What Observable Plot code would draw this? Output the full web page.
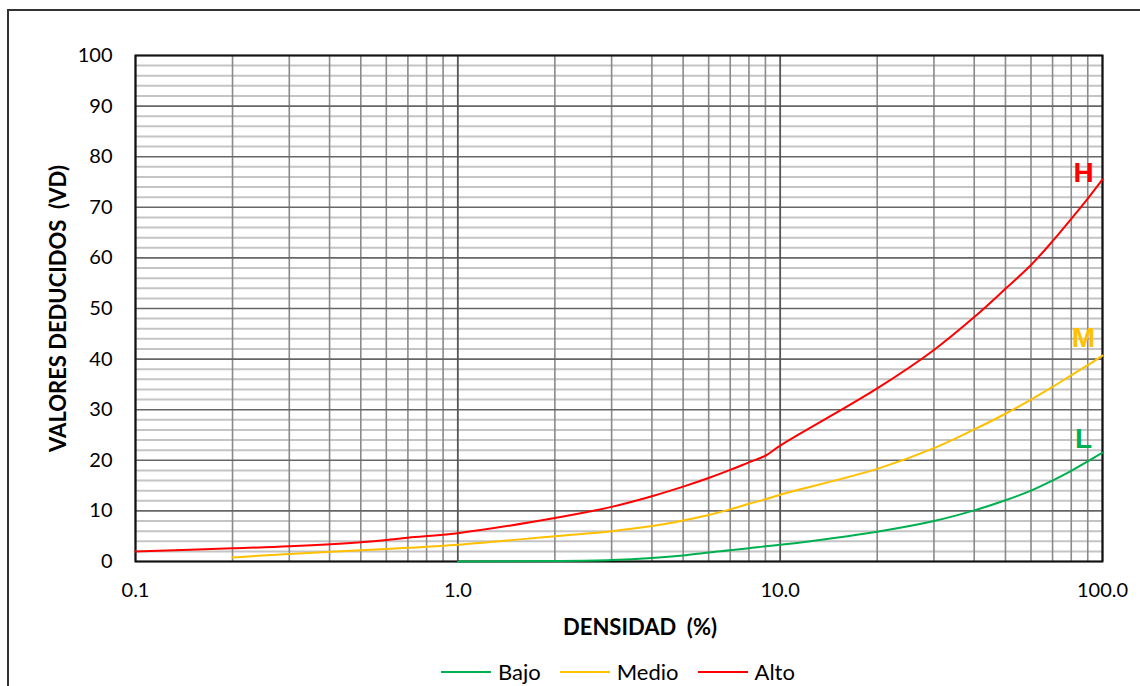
<!DOCTYPE html>
<html>
<head>
<meta charset="utf-8">
<script src="https://cdn.jsdelivr.net/npm/d3@7"></script>
<script src="https://cdn.jsdelivr.net/npm/@observablehq/plot@0.6"></script>
<style>
  html, body { margin: 0; padding: 0; background: #fff; overflow: hidden; width: 1140px; height: 686px; }
  #frame { position: absolute; left: 7px; top: 9px; width: 1300px; height: 900px; border-top: 2px solid #333; border-left: 2px solid #333; }
  #chart { position: absolute; left: 0; top: 0; }
  #legend { position: absolute; left: 0; top: 658px; width: 1140px; display: flex; justify-content: flex-start; padding-left: 441px; box-sizing: border-box;
            font-family: Lato, "Open Sans", sans-serif; font-size: 22px; color: #000; align-items: center; }
  .item { display: flex; align-items: center; margin-right: 19px; }
  .sw { width: 50px; height: 2px; margin-right: 7px; }
</style>
</head>
<body>
<div id="frame"></div>
<div id="chart"></div>
<div id="legend"></div>
<script>
// ---- data ----
const seriesNames = ["Bajo", "Medio", "Alto"];
const seriesLetters = ["L", "M", "H"];
const seriesColors = ["#00B050", "#FFC000", "#FF0000"];

const bajoX = [1, 2, 3, 4, 5, 6, 7, 8, 9, 10, 20, 30, 40, 50, 60, 70, 80, 90, 100];
const bajoY = [0, 0.1, 0.3, 0.7, 1.2, 1.8, 2.2, 2.6, 3.0, 3.3, 5.9, 8.0, 10.1, 12.1, 14.0, 16.0, 17.9, 19.8, 21.5];

const medioX = [0.2, 0.3, 0.5, 0.7, 1, 2, 3, 4, 5, 6, 7, 8, 9, 10, 20, 30, 40, 50, 60, 70, 80, 90, 100];
const medioY = [0.8, 1.5, 2.2, 2.7, 3.3, 5.0, 6.0, 7.0, 8.1, 9.2, 10.3, 11.4, 12.3, 13.2, 18.3, 22.4, 26.1, 29.2, 32.0, 34.5, 36.8, 38.8, 40.7];

const altoX = [0.1, 0.2, 0.3, 0.5, 0.7, 1, 2, 3, 4, 5, 6, 7, 8, 9, 10, 20, 30, 40, 50, 60, 70, 80, 90, 100];
const altoY = [2.0, 2.6, 3.0, 3.8, 4.7, 5.6, 8.6, 10.8, 12.9, 14.8, 16.5, 18.1, 19.6, 20.9, 22.9, 34.2, 41.8, 48.3, 53.9, 58.6, 63.3, 67.7, 71.7, 75.5];

const xTicks = [0.1, 1, 10, 100];
const xMinorGrid = [0.2,0.3,0.4,0.5,0.6,0.7,0.8,0.9,2,3,4,5,6,7,8,9,20,30,40,50,60,70,80,90];
const yTicks = [0, 10, 20, 30, 40, 50, 60, 70, 80, 90, 100];
const yMinorGrid = d3.range(2, 100, 2).filter(v => v % 10 !== 0);

const xTitle = "DENSIDAD  (%)";
const yTitle = "VALORES DEDUCIDOS  (VD)";

// ---- build table ----
const raw = [[bajoX, bajoY], [medioX, medioY], [altoX, altoY]];
const rows = [];
raw.forEach(([xs, ys], i) => xs.forEach((x, j) => rows.push({serie: seriesNames[i], x, y: ys[j]})));
const lastPoints = raw.map(([xs, ys], i) => ({serie: seriesNames[i], letter: seriesLetters[i], x: xs[xs.length - 1], y: ys[ys.length - 1]}));

const letterDy = [-14, -18, -6];

const chart = Plot.plot({
  width: 1140,
  height: 640,
  marginLeft: 135,
  marginRight: 38,
  marginTop: 55,
  marginBottom: 79,
  style: {fontFamily: "Lato, 'Open Sans', sans-serif", fontSize: "20px", color: "#000", background: "transparent"},
  x: {type: "log", domain: [0.1, 100]},
  y: {domain: [0, 100]},
  color: {domain: seriesNames, range: seriesColors},
  marks: [
    Plot.ruleY(yMinorGrid, {stroke: "#c4c4c4", strokeWidth: 2}),
    Plot.ruleX(xMinorGrid, {stroke: "#8a8a8a", strokeWidth: 1.6}),
    Plot.ruleY(yTicks, {stroke: "#666", strokeWidth: 1.6}),
    Plot.ruleX(xTicks, {stroke: "#555", strokeWidth: 1.8}),
    Plot.frame({stroke: "#111", strokeWidth: 2}),
    Plot.axisY(yTicks, {tickSize: 0, tickPadding: 23, label: null, fontSize: 20}),
    Plot.axisX(xTicks, {tickSize: 0, tickPadding: 21, label: null, tickFormat: d3.format(".1f"), fontSize: 20}),
    Plot.line(rows, {x: "x", y: "y", z: "serie", stroke: "serie", strokeWidth: 2, curve: "catmull-rom"}),
    ...lastPoints.map((p, i) => Plot.text([p], {x: "x", y: "y", text: "letter", fill: "serie", dx: -19, dy: letterDy[i],
      fontSize: 28, fontWeight: "bold", fontFamily: "'Liberation Sans', Arial, sans-serif", textAnchor: "middle"})),
    Plot.text([xTitle], {frameAnchor: "bottom", dy: 73, dx: 21, fontWeight: "bold", fontSize: 22, fill: "#000", textAnchor: "middle"}),
    Plot.text([yTitle], {frameAnchor: "left", dx: -77, rotate: -90, fontWeight: "bold", fontSize: 22, fill: "#000", textAnchor: "middle"})
  ]
});
document.getElementById("chart").appendChild(chart);

const legend = document.getElementById("legend");
seriesNames.forEach((n, i) => {
  const it = document.createElement("div");
  it.className = "item";
  const sw = document.createElement("div");
  sw.className = "sw";
  sw.style.background = seriesColors[i];
  const lb = document.createElement("span");
  lb.textContent = n;
  it.appendChild(sw); it.appendChild(lb);
  legend.appendChild(it);
});
</script>
</body>
</html>
